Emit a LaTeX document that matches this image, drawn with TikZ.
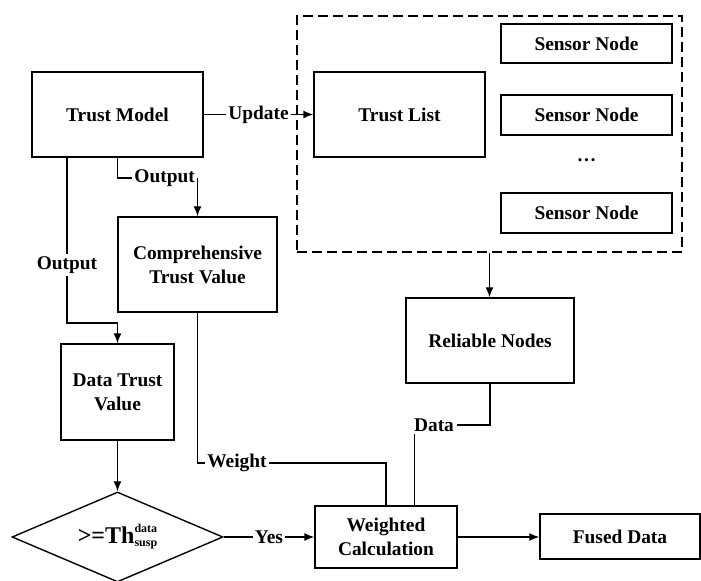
\documentclass[tikz,border=0pt]{standalone}
\usepackage{fontspec}
\setmainfont{Liberation Serif}
\usetikzlibrary{shapes.geometric,arrows.meta}

\begin{document}
\begin{tikzpicture}[x=0.5pt,y=-0.5pt,>={Latex[length=5pt,width=4pt]},line width=0.7pt,
    font=\fontsize{9.7}{12}\selectfont\bfseries,
    box/.style={draw,rectangle,align=center,inner sep=0pt},
    lbl/.style={inner sep=1pt,fill=white}]
     \useasboundingbox (0,0) rectangle (701,581);                                                      % page size
     \node[box,minimum width=85.5pt,minimum height=42.5pt] (tm) at (117.5,114.5) {Trust Model};
     \node[draw,dashed,dash pattern=on 5pt off 2.5pt,minimum width=192.5pt,minimum height=118pt] (grp) at (489.5,134) {}; % trust list group
     \node[box,minimum width=85.5pt,minimum height=42.5pt] (tl) at (399.5,114.5) {Trust List};
     \node[box,minimum width=85.5pt,minimum height=19.5pt] (sn1) at (586.5,43.5) {Sensor Node};
     \node[box,minimum width=85.5pt,minimum height=20pt] (sn2) at (586.5,115) {Sensor Node};
     \node (dots) at (586.5,160) {\dots};
     \node[box,minimum width=85.5pt,minimum height=20pt] (sn3) at (586.5,213) {Sensor Node};
     \node[box,minimum width=79.5pt,minimum height=47.5pt] (ctv) at (197.5,264.5) {Comprehensive\\Trust Value};
     \node[box,minimum width=56.5pt,minimum height=48pt] (dtv) at (117.5,392) {Data Trust\\Value};
     \node[box,minimum width=84pt,minimum height=42.5pt] (rel) at (490,340.5) {Reliable Nodes};
     \node[draw,diamond,shape aspect=2.34,minimum width=105.5pt,minimum height=45pt,inner sep=0pt] (dia) at (117.5,537)
         {{\fontsize{12}{12}\selectfont >=Th}\raisebox{-1.5pt}{\fontsize{6}{6.8}\selectfont\begin{tabular}[b]{@{}l@{}}data\\susp\end{tabular}}};
     \node[box,minimum width=71pt,minimum height=31pt] (wc) at (386,537) {Weighted\\Calculation};
     \node[box,minimum width=80pt,minimum height=22.5pt] (fd) at (620,536.5) {Fused Data};

     % labels at the bends
     \node[lbl,anchor=east] (out1) at (197.5,178) {Output};
     \node[lbl] (out2) at (67,265) {Output};
     \node[lbl] (wt) at (237,463) {Weight};
     \node[lbl] (dt) at (434,425) {Data};
     \coordinate (bend) at (117.5,323);

     % connectors
     \draw [->] (tm) -- node[lbl] (upd) {Update} (tl);
     \draw (tm.south) |- (out1.west);
     \draw [->] (out1.east) -| (ctv.north);
     \draw (out2.north |- tm.south) -- (out2.north);
     \draw [->] (out2.south) |- (bend) -- (dtv.north);
     \draw [->] (dtv) -- (dia);
     \draw [->] (dia) -- node[lbl] (yes) {Yes} (wc);
     \draw [->] (wc.east) -- (wc.east -| fd.west);
     \draw [->] (grp.south) -- (grp.south |- rel.north);
     \draw (ctv.south) |- (wt.west);
     \draw (wt.east) -| (wc.north);
     \draw (rel.south) |- (dt.east);
     \draw ([xshift=1.5pt]dt.south west) -- ([xshift=1.5pt]dt.south west |- wc.north);
  \end{tikzpicture}
\end{document}
